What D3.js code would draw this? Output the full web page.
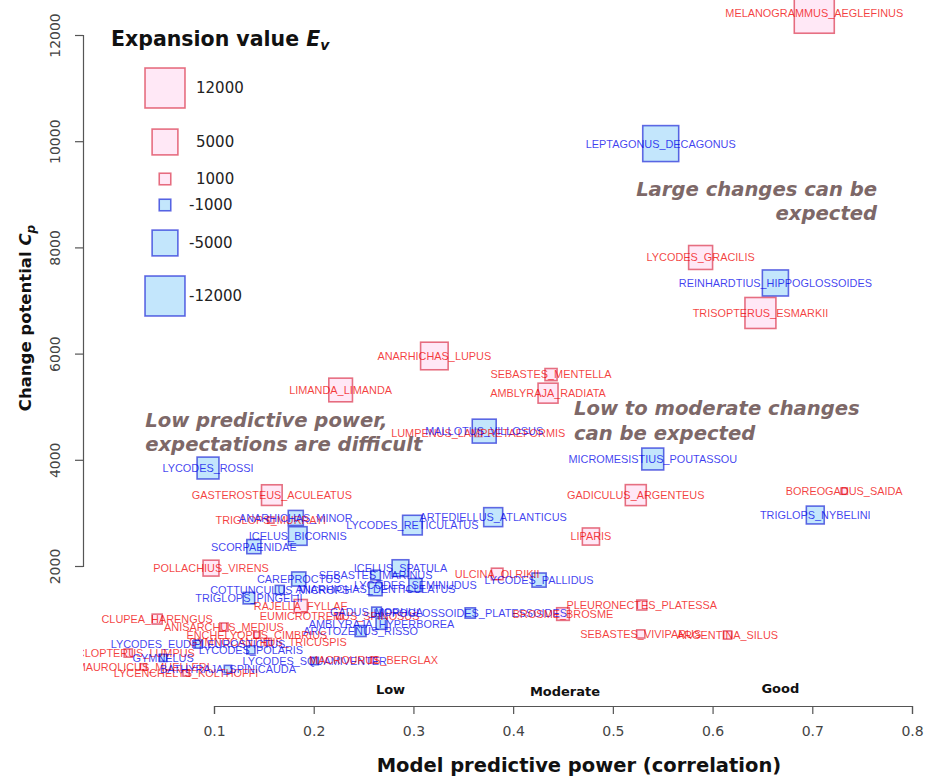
<!DOCTYPE html>
<html>
<head>
<meta charset="utf-8">
<script src="https://cdn.jsdelivr.net/npm/d3@7"></script>
<style>
    body { margin: 0; background: #fff; }
    svg { display: block; font-family: "DejaVu Sans", sans-serif; }
    .sp { font-family: "Liberation Sans", Arial, sans-serif; font-size: 10.9px; }
</style>
</head>
<body>
<div id="chart-container"></div>
<script>
// species, model predictive power (x), change potential (y), expansion value (square size)
var species = [
    'MELANOGRAMMUS_AEGLEFINUS', 'LEPTAGONUS_DECAGONUS', 'LYCODES_GRACILIS', 'REINHARDTIUS_HIPPOGLOSSOIDES',
    'TRISOPTERUS_ESMARKII', 'ANARHICHAS_LUPUS', 'LIMANDA_LIMANDA', 'SEBASTES_MENTELLA', 'AMBLYRAJA_RADIATA',
    'LUMPENUS_LAMPRETAEFORMIS', 'MALLOTUS_VILLOSUS', 'LYCODES_ROSSI', 'MICROMESISTIUS_POUTASSOU',
    'GASTEROSTEUS_ACULEATUS', 'GADICULUS_ARGENTEUS', 'BOREOGADUS_SAIDA', 'TRIGLOPS_NYBELINI',
    'ARTEDIELLUS_ATLANTICUS', 'LYCODES_RETICULATUS', 'LIPARIS', 'TRIGLOPS_MURRAYI', 'ANARHICHAS_MINOR',
    'ICELUS_BICORNIS', 'SCORPAENIDAE', 'POLLACHIUS_VIRENS', 'ICELUS_SPATULA', 'SEBASTES_MARINUS',
    'ULCINA_OLRIKII', 'LYCODES_PALLIDUS', 'CAREPROCTUS', 'LYCODES_SEMINUDUS', 'COTTUNCULUS_MICROPS',
    'ANARHICHAS_DENTICULATUS', 'TRIGLOPS_PINGELII', 'RAJELLA_FYLLAE', 'EUMICROTREMUS_SPINOSUS',
    'GADUS_MORHUA', 'HIPPOGLOSSOIDES_PLATESSOIDES', 'BROSME_BROSME', 'PLEURONECTES_PLATESSA',
    'AMBLYRAJA_HYPERBOREA', 'ARCTOZENUS_RISSO', 'SEBASTES_VIVIPARUS', 'ARGENTINA_SILUS',
    'CLUPEA_HARENGUS', 'ANISARCHUS_MEDIUS', 'ENCHELYOPUS_CIMBRIUS', 'GYMNOCANTHUS_TRICUSPIS',
    'LYCODES_EUDIPLEUROSTICTUS', 'LYCODES_POLARIS', 'CYCLOPTERUS_LUMPUS', 'GYMNELUS',
    'MAUROLICUS_MUELLERI', 'LYCENCHELYS_KOLTHOFFI', 'BATHYRAJA_SPINICAUDA', 'LYCODES_SQUAMIVENTER',
    'MACROURUS_BERGLAX'
];
var power = [
    0.702, 0.548, 0.588, 0.663,
    0.648, 0.321, 0.227, 0.438, 0.435,
    0.365, 0.371, 0.094, 0.540,
    0.158, 0.523, 0.732, 0.703,
    0.380, 0.299, 0.478, 0.157, 0.182,
    0.184, 0.140, 0.097, 0.287, 0.262,
    0.384, 0.426, 0.185, 0.302, 0.166,
    0.262, 0.135, 0.187, 0.226,
    0.263, 0.357, 0.450, 0.529,
    0.268, 0.247, 0.528, 0.615,
    0.043, 0.110, 0.143, 0.154,
    0.084, 0.137, 0.014, 0.049,
    0.029, 0.072, 0.114, 0.201,
    0.260
];
var change = [
    12410, 9955, 7810, 7330,
    6765, 5955, 5315, 5605, 5255,
    4505, 4540, 3845, 4015,
    3335, 3335, 3410, 2960,
    2920, 2770, 2555, 2865, 2905,
    2565, 2365, 1960, 1960, 1830,
    1850, 1735, 1755, 1640, 1550,
    1565, 1395, 1245, 1060,
    1135, 1115, 1095, 1265,
    910, 775, 720, 700,
    1000, 850, 700, 570,
    530, 420, 360, 270,
    100, -15, 60, 210,
    230
];
var expansion = [
    12000, -9700, 4300, -5100,
    7200, 5700, 4200, 1100, 3000,
    400, -4300, -3600, -3600,
    3200, 3300, 300, -2400,
    -2700, -2900, 2200, 300, -1700,
    -2600, -1500, 1900, -2100, -700,
    1000, -1500, -1500, -1300, -600,
    -1300, -1000, 1300, 300,
    -700, -800, 1200, 750,
    -900, -900, 500, 500,
    750, 500, 300, 400,
    -500, -500, 500, -400,
    300, 300, -400, -400,
    300
];

var legendValues = [12000, 5000, 1000, -1000, -5000, -12000];
var xTicks = [0.1, 0.2, 0.3, 0.4, 0.5, 0.6, 0.7, 0.8];
var yTicks = [2000, 4000, 6000, 8000, 10000, 12000];
var zoneNames = ['Low', 'Moderate', 'Good'];
var zonePower = [0.277, 0.452, 0.668];
var notes = [
    {lines: ['Large changes can be', 'expected'], power: 0.765, change: 8970, anchor: 'end'},
    {lines: ['Low to moderate changes', 'can be expected'], power: 0.461, change: 4840, anchor: 'start'},
    {lines: ['Low predictive power,', 'expectations are difficult'], power: 0.031, change: 4620, anchor: 'start'}
];

(function(){
    /* global d3 */
    var W = 927, H = 776;
    var data = species.map((s, i) => ({name: s, x: power[i], y: change[i], ev: expansion[i]}));

    var x = d3.scaleLinear().domain([0.1, 0.8]).range([214, 912]);
    var y = d3.scaleLinear().domain([2000, 12000]).range([566, 35]);
    var side = d3.scaleSqrt().domain([0, 12000]).range([0, 40]);

    var red = {fill: 'rgba(255,180,225,0.3)', stroke: 'rgba(210,0,30,0.55)', text: 'rgba(240,0,0,0.75)'};
    var blue = {fill: 'rgba(135,206,250,0.5)', stroke: 'rgba(0,10,210,0.6)', text: 'rgba(0,0,235,0.75)'};
    var col = v => v >= 0 ? red : blue;

    var svg = d3.select('#chart-container').append('svg')
        .attr('width', W).attr('height', H);

    // R clips the marks and names to the plot region
    svg.append('clipPath').attr('id', 'plot-area')
        .append('rect').attr('x', 83).attr('y', 0).attr('width', W - 83).attr('height', 700);

    createAxes();
    createPoints();
    createNotes();
    createLegend();

    function createAxes(){
        var xa = svg.append('g').attr('transform', 'translate(0,706)')
            .call(d3.axisBottom(x).tickValues(xTicks).tickSize(8).tickPadding(12).tickFormat(d3.format('.1f')));
        var ya = svg.append('g').attr('transform', 'translate(83,0)')
            .call(d3.axisLeft(y).tickValues(yTicks).tickSize(8).tickFormat(d3.format('d')));
        [xa, ya].forEach(a => {
            a.select('.domain').attr('stroke', '#555').attr('stroke-width', 1.2);
            a.selectAll('.tick line').attr('stroke', '#555').attr('stroke-width', 1.2);
            a.selectAll('.tick text').attr('fill', '#444').attr('font-size', 14)
                .attr('font-family', '"DejaVu Sans", sans-serif');
        });
        ya.selectAll('.tick text')
            .attr('x', null).attr('dy', null)
            .attr('text-anchor', 'middle')
            .attr('transform', 'translate(-28,0) rotate(-90)')
            .attr('dy', '0.35em');

        svg.append('text')
            .attr('x', x(0.466)).attr('y', 772)
            .attr('text-anchor', 'middle')
            .attr('font-weight', 'bold').attr('font-size', 19.5).attr('fill', '#111')
            .text('Model predictive power (correlation)');

        var yt = svg.append('text')
            .attr('transform', 'translate(31,' + y(6670) + ') rotate(-90)')
            .attr('text-anchor', 'middle')
            .attr('font-weight', 'bold').attr('font-size', 16.5).attr('fill', '#111');
        yt.append('tspan').text('Change potential ');
        yt.append('tspan').attr('font-style', 'italic').text('C');
        yt.append('tspan').attr('font-style', 'italic').attr('font-size', 12).attr('dy', 4).text('p');

        svg.selectAll('text.zone')
            .data(zoneNames).enter()
            .append('text')
            .attr('class', 'zone')
            .attr('x', (d, i) => x(zonePower[i]))
            .attr('y', (d, i) => [694, 696, 693][i])
            .attr('text-anchor', 'middle')
            .attr('font-weight', 'bold').attr('font-size', 13).attr('fill', '#111')
            .text(d => d);
    }

    function createPoints(){
        var g = svg.append('g').attr('clip-path', 'url(#plot-area)');
        g.selectAll('rect')
            .data(data).enter()
            .append('rect')
            .attr('x', d => x(d.x) - side(Math.abs(d.ev)) / 2)
            .attr('y', d => y(d.y) - side(Math.abs(d.ev)) / 2)
            .attr('width', d => side(Math.abs(d.ev)))
            .attr('height', d => side(Math.abs(d.ev)))
            .attr('fill', d => col(d.ev).fill)
            .attr('stroke', d => col(d.ev).stroke)
            .attr('stroke-width', 1.6);

        g.selectAll('text')
            .data(data).enter()
            .append('text')
            .attr('class', 'sp')
            .attr('x', d => x(d.x))
            .attr('y', d => y(d.y))
            .attr('dy', '0.36em')
            .attr('text-anchor', 'middle')
            .attr('fill', d => col(d.ev).text)
            .text(d => d.name);
    }

    function createNotes(){
        notes.forEach(n => {
            var t = svg.append('text')
                .attr('text-anchor', n.anchor)
                .attr('font-weight', 'bold').attr('font-style', 'italic')
                .attr('font-size', 19.6).attr('fill', 'rgb(125,104,104)');
            n.lines.forEach((l, i) => {
                t.append('tspan')
                    .attr('x', x(n.power))
                    .attr('y', y(n.change) + i * 24.5)
                    .text(l);
            });
        });
    }

    function createLegend(){
        var g = svg.append('g');
        var t = g.append('text').attr('x', 111).attr('y', 46)
            .attr('font-weight', 'bold').attr('font-size', 20.5).attr('fill', '#111');
        t.append('tspan').text('Expansion value ');
        t.append('tspan').attr('font-style', 'italic').text('E');
        t.append('tspan').attr('font-style', 'italic').attr('font-size', 14).attr('dy', 4).text('v');

        var rowY = [88, 142, 179, 205, 243, 296];
        legendValues.forEach((v, i) => {
            var s = side(Math.abs(v));
            g.append('rect')
                .attr('x', 165 - s / 2).attr('y', rowY[i] - s / 2)
                .attr('width', s).attr('height', s)
                .attr('fill', col(v).fill).attr('stroke', col(v).stroke).attr('stroke-width', 1.6);
            g.append('text')
                .attr('x', v < 0 ? 189 : 196).attr('y', rowY[i]).attr('dy', '0.36em')
                .attr('font-size', 15).attr('fill', '#222')
                .text(v);
        });
    }
})();
</script>
</body>
</html>
